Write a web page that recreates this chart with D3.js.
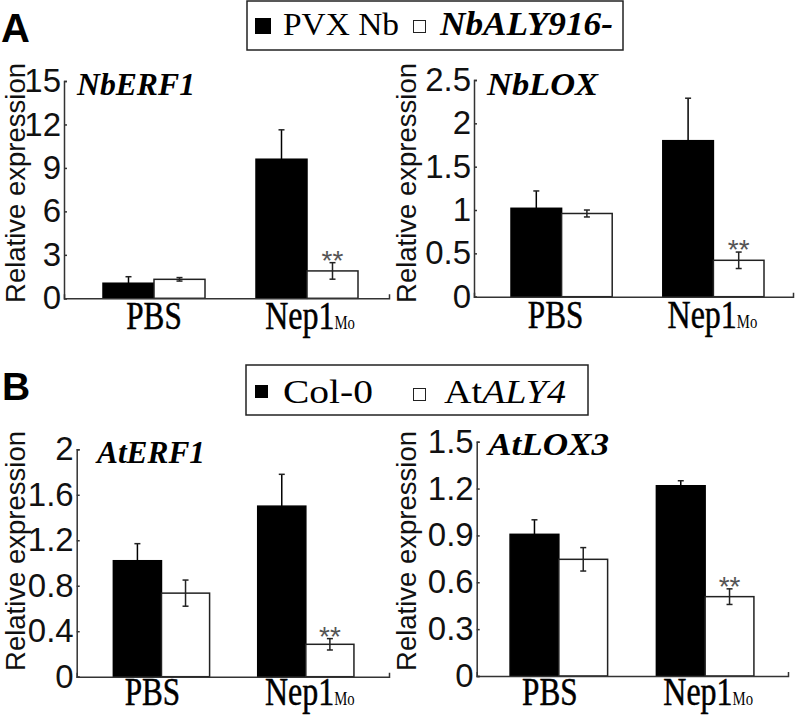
<!DOCTYPE html>
<html>
<head>
<meta charset="utf-8">
<script src="https://cdn.jsdelivr.net/npm/d3@7"></script>
<style>
  body { margin: 0; background: #fff; }
  svg { display: block; }
  .tick text { font-family: "Liberation Sans", Arial, sans-serif; font-size: 33px; fill: #111; }
  .domain, .tick line { stroke: #333; stroke-width: 1.5; }
</style>
</head>
<body>
<div id="chart"></div>
<script>
// categories and series
var groups = ["PBS", "Nep1"];
var seriesA = ["PVX Nb", "NbALY916-"];
var seriesB = ["Col-0", "AtALY4"];

// NbERF1
var nbErf1Control = [1.04, 9.6];
var nbErf1ControlErr = [0.45, 2.03];
var nbErf1Silenced = [1.31, 1.89];
var nbErf1SilencedErr = [0.12, 0.57];
var nbErf1Ticks = [0, 3, 6, 9, 12, 15];

// NbLOX
var nbLoxControl = [1.02, 1.80];
var nbLoxControlErr = [0.20, 0.49];
var nbLoxSilenced = [0.96, 0.42];
var nbLoxSilencedErr = [0.04, 0.095];
var nbLoxTicks = [0, 0.5, 1, 1.5, 2, 2.5];

// AtERF1
var atErf1Control = [1.02, 1.50];
var atErf1ControlErr = [0.15, 0.28];
var atErf1Mutant = [0.735, 0.285];
var atErf1MutantErr = [0.115, 0.05];
var atErf1Ticks = [0, 0.4, 0.8, 1.2, 1.6, 2];

// AtLOX3
var atLox3Control = [0.907, 1.218];
var atLox3ControlErr = [0.093, 0.032];
var atLox3Mutant = [0.747, 0.508];
var atLox3MutantErr = [0.075, 0.05];
var atLox3Ticks = [0, 0.3, 0.6, 0.9, 1.2, 1.5];

// significance marks on the second series
var secondSeriesSig = ["", "**"];

var svg = d3.select("#chart").append("svg")
  .attr("width", 800)
  .attr("height", 715);

var serif = "'Liberation Serif', 'Times New Roman', serif";
var sans = "'Liberation Sans', Arial, sans-serif";

var panels = [
  {title: "NbERF1", titleLen: 118, titleX: 77, titleY: 95,
   a: nbErf1Control, aErr: nbErf1ControlErr, b: nbErf1Silenced, bErr: nbErf1SilencedErr,
   ticks: nbErf1Ticks, axisX: 64, axisEnd: 389, y0: 298.3, y1: 81, band: [77.5, 383.5],
   yTitleX: 25, yTitleY: 183, labelDx: [0, 3], labelDy: 31},
  {title: "NbLOX", titleLen: 111, titleX: 487, titleY: 95,
   a: nbLoxControl, aErr: nbLoxControlErr, b: nbLoxSilenced, bErr: nbLoxSilencedErr,
   ticks: nbLoxTicks, axisX: 474, axisEnd: 793, y0: 296.7, y1: 80, band: [485.7, 789.3],
   yTitleX: 416, yTitleY: 183, labelDx: [-6, -1], labelDy: 31},
  {title: "AtERF1", titleLen: 108, titleX: 97, titleY: 463,
   a: atErf1Control, aErr: atErf1ControlErr, b: atErf1Mutant, bErr: atErf1MutantErr,
   ticks: atErf1Ticks, axisX: 76.7, axisEnd: 389, y0: 676.7, y1: 449.3, band: [89.3, 378],
   yTitleX: 25, yTitleY: 551, labelDx: [-9, 4], labelDy: 28.5},
  {title: "AtLOX3", titleLen: 121, titleX: 488, titleY: 455,
   a: atLox3Control, aErr: atLox3ControlErr, b: atLox3Mutant, bErr: atLox3MutantErr,
   ticks: atLox3Ticks, axisX: 476.7, axisEnd: 788, y0: 676, y1: 441.7, band: [485.7, 778.3],
   yTitleX: 416, yTitleY: 551, labelDx: [-9, 3], labelDy: 28.5}
];

panels.forEach(function(p) {
  var g = svg.append("g");

  var y = d3.scaleLinear()
    .domain([0, d3.max(p.ticks)])
    .range([p.y0, p.y1]);

  var x = d3.scaleBand()
    .domain(groups)
    .range(p.band)
    .paddingInner(1 / 3)
    .paddingOuter(1 / 6);

  var xs = d3.scaleBand()
    .domain([0, 1])
    .range([0, x.bandwidth()]);

  // one entry per bar, both series for each group
  var bars = d3.merge(groups.map(function(grp, i) {
    return [
      {grp: grp, s: 0, v: p.a[i], e: p.aErr[i], sig: ""},
      {grp: grp, s: 1, v: p.b[i], e: p.bErr[i], sig: secondSeriesSig[i]}
    ];
  }));

  // bars
  g.selectAll("rect.bar")
    .data(bars)
    .enter().append("rect")
    .attr("class", "bar")
    .attr("x", d => x(d.grp) + xs(d.s))
    .attr("y", d => y(d.v))
    .attr("width", xs.bandwidth())
    .attr("height", d => y(0) - y(d.v))
    .attr("fill", d => d.s === 0 ? "#000" : "#fff")
    .attr("stroke", d => d.s === 0 ? "#000" : "#222")
    .attr("stroke-width", 1.5);

  // error bars
  var eb = g.selectAll("g.err")
    .data(bars)
    .enter().append("g")
    .attr("class", "err")
    .attr("transform", d => "translate(" + (x(d.grp) + xs(d.s) + xs.bandwidth() / 2) + ",0)");
  eb.append("line")
    .attr("y1", d => y(d.v + d.e))
    .attr("y2", d => y(d.v - d.e))
    .attr("stroke", d => d.s === 0 ? "#000" : "#222")
    .attr("stroke-width", 1.5);
  eb.append("line")
    .attr("x1", -3).attr("x2", 3)
    .attr("y1", d => y(d.v + d.e)).attr("y2", d => y(d.v + d.e))
    .attr("stroke", "#222").attr("stroke-width", 1.5);
  eb.filter(d => d.s === 1).append("line")
    .attr("x1", -3).attr("x2", 3)
    .attr("y1", d => y(d.v - d.e)).attr("y2", d => y(d.v - d.e))
    .attr("stroke", "#222").attr("stroke-width", 1.5);
  eb.filter(d => d.sig).append("text")
    .attr("y", d => y(d.v + d.e) + 7)
    .attr("text-anchor", "middle")
    .attr("font-family", sans)
    .attr("font-size", 28)
    .attr("fill", "#555")
    .text(d => d.sig);

  // y axis, ticks pointing inward
  g.append("g")
    .attr("transform", "translate(" + p.axisX + ",0)")
    .call(d3.axisLeft(y)
      .tickValues(p.ticks)
      .tickFormat(d => String(d))
      .tickSizeInner(-3)
      .tickSizeOuter(-3)
      .tickPadding(3));

  // x axis line with small end tick
  var xLine = d3.scaleLinear().range([p.axisX, p.axisEnd]);
  g.append("g")
    .attr("transform", "translate(0," + p.y0 + ")")
    .call(d3.axisBottom(xLine).tickValues([]).tickSizeOuter(-4));

  // category labels
  var labY = p.y0 + p.labelDy;
  g.append("text")
    .attr("transform", "translate(" + (x(groups[0]) + x.bandwidth() / 2 + p.labelDx[0]) + "," + labY + ") scale(0.8,1)")
    .attr("text-anchor", "middle")
    .attr("font-family", serif)
    .attr("font-size", 39)
    .attr("stroke", "#000")
    .attr("stroke-width", 0.5)
    .text(groups[0]);
  var nep = g.append("text")
    .attr("transform", "translate(" + (x(groups[1]) + x.bandwidth() / 2 + p.labelDx[1]) + "," + labY + ") scale(0.82,1)")
    .attr("text-anchor", "middle")
    .attr("font-family", serif)
    .attr("font-size", 39)
    .attr("stroke", "#000")
    .attr("stroke-width", 0.5);
  nep.append("tspan").text(groups[1]);
  nep.append("tspan").attr("font-size", 18).attr("stroke-width", 0).text("Mo");

  // panel title
  g.append("text")
    .attr("x", p.titleX)
    .attr("y", p.titleY)
    .attr("font-family", serif)
    .attr("font-style", "italic")
    .attr("font-weight", "bold")
    .attr("font-size", 32)
    .attr("textLength", p.titleLen)
    .attr("lengthAdjust", "spacingAndGlyphs")
    .text(p.title);

  // y title
  g.append("text")
    .attr("transform", "translate(" + p.yTitleX + "," + p.yTitleY + ") rotate(-90)")
    .attr("text-anchor", "middle")
    .attr("font-family", sans)
    .attr("font-size", 27.5)
    .attr("fill", "#111")
    .text("Relative expression");
});

// panel letters
svg.append("text").attr("x", 1).attr("y", 42)
  .attr("font-family", sans).attr("font-weight", "bold").attr("font-size", 40)
  .text("A");
svg.append("text").attr("x", 2).attr("y", 400)
  .attr("font-family", sans).attr("font-weight", "bold").attr("font-size", 39)
  .text("B");

// legend A
var legA = svg.append("g");
legA.append("rect").attr("x", 247).attr("y", 1).attr("width", 376).attr("height", 49)
  .attr("fill", "#fff").attr("stroke", "#222").attr("stroke-width", 1.5);
legA.append("rect").attr("x", 255).attr("y", 18).attr("width", 16).attr("height", 16)
  .attr("fill", "#000");
legA.append("text").attr("x", 283).attr("y", 35)
  .attr("font-family", serif).attr("font-size", 32)
  .attr("textLength", 116).attr("lengthAdjust", "spacingAndGlyphs")
  .text(seriesA[0]);
legA.append("rect").attr("x", 413.5).attr("y", 20.5).attr("width", 12).attr("height", 12)
  .attr("fill", "#fff").attr("stroke", "#222").attr("stroke-width", 1);
legA.append("text").attr("x", 440).attr("y", 35)
  .attr("font-family", serif).attr("font-size", 33)
  .attr("font-style", "italic").attr("font-weight", "bold")
  .attr("textLength", 173).attr("lengthAdjust", "spacingAndGlyphs")
  .text(seriesA[1]);

// legend B
var legB = svg.append("g");
legB.append("rect").attr("x", 246).attr("y", 365).attr("width", 342).attr("height", 50)
  .attr("fill", "#fff").attr("stroke", "#222").attr("stroke-width", 1.5);
legB.append("rect").attr("x", 255).attr("y", 385).attr("width", 13).attr("height", 13)
  .attr("fill", "#000");
legB.append("text").attr("x", 283).attr("y", 403)
  .attr("font-family", serif).attr("font-size", 33)
  .attr("textLength", 90).attr("lengthAdjust", "spacingAndGlyphs")
  .text(seriesB[0]);
legB.append("rect").attr("x", 413.5).attr("y", 388.5).attr("width", 12).attr("height", 12)
  .attr("fill", "#fff").attr("stroke", "#222").attr("stroke-width", 1);
var atLab = legB.append("text").attr("x", 444).attr("y", 403)
  .attr("font-family", serif).attr("font-size", 33)
  .attr("textLength", 122).attr("lengthAdjust", "spacingAndGlyphs");
atLab.append("tspan").text(seriesB[1].slice(0, 2));
atLab.append("tspan").attr("font-style", "italic").text(seriesB[1].slice(2));
</script>
</body>
</html>
